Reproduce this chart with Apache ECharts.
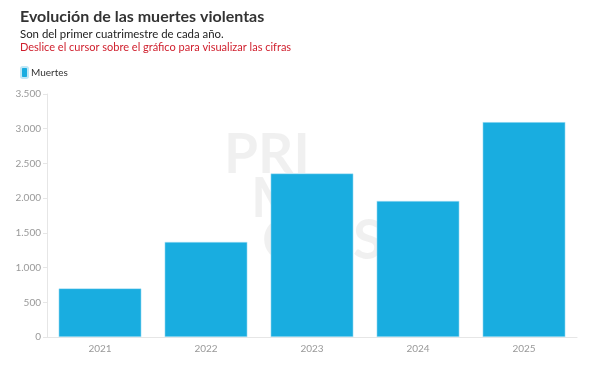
<!DOCTYPE html>
<html><head><meta charset="utf-8">
<script src="https://cdn.jsdelivr.net/npm/echarts@6/dist/echarts.min.js"></script>
<style>html,body{margin:0;padding:0;background:#fff}#c{width:597px;height:374px}</style>
</head><body><div id="c"></div>
<script>
const categories = ['2021','2022','2023','2024','2025'];
const muertes = [700, 1370, 2355, 1960, 3095];
const seriesName = 'Muertes';
const yTicks = {min:0, max:3500, interval:500};

const chart = echarts.init(document.getElementById('c'));
const font = 'Lato, "Noto Sans", sans-serif';
chart.setOption({
  animation:false,
  textStyle:{fontFamily:font},
  title:[
    {text:'Evolución de las muertes violentas', left:15, top:4, textStyle:{fontFamily:font,fontSize:16,fontWeight:'bold',color:'#333'}},
    {text:'Son del primer cuatrimestre de cada año.', left:15, top:24, textStyle:{fontFamily:font,fontSize:11.4,fontWeight:'normal',color:'#222'}},
    {text:'Deslice el cursor sobre el gráfico para visualizar las cifras', left:15, top:37, textStyle:{fontFamily:font,fontSize:11,fontWeight:'normal',color:'#d0202e'}}
  ],
  legend:{left:15, top:61, itemWidth:7, itemHeight:11, itemGap:4, icon:'roundRect',
    textStyle:{fontFamily:font,fontSize:10,color:'#333',padding:[0,0,0,-2]}, data:[seriesName]},
  graphic:[
    {type:'text', left:224, top:128, z:-1, style:{text:'PRI', font:'bold 55px '+font, fill:'rgba(0,0,0,0.06)'}},
    {type:'text', left:251, top:172, z:-1, style:{text:'MI', font:'bold 55px '+font, fill:'rgba(0,0,0,0.06)'}},
    {type:'text', left:262, top:214, z:-1, style:{text:'CIAS', font:'bold 55px '+font, fill:'rgba(0,0,0,0.06)'}}
  ],
  grid:{left:47, right:20, top:94, bottom:37},
  xAxis:{type:'category', data:categories,
    axisLine:{lineStyle:{color:'#e6e6e6'}},
    axisTick:{alignWithLabel:true, length:4, lineStyle:{color:'#e6e6e6'}},
    axisLabel:{color:'#999', fontSize:10, margin:7, fontFamily:font}},
  yAxis:{type:'value', min:yTicks.min, max:yTicks.max, interval:yTicks.interval,
    axisLine:{show:true, lineStyle:{color:'#e6e6e6'}},
    axisTick:{show:true, length:4, lineStyle:{color:'#e6e6e6'}},
    splitLine:{show:false},
    axisLabel:{color:'#999', fontSize:10, margin:6, fontFamily:font,
      formatter:v=>String(v).replace(/\B(?=(\d{3})+(?!\d))/g,'.')}},
  series:[{name:seriesName, type:'bar', data:muertes, barCategoryGap:'22%',
    itemStyle:{color:'#19ade0', borderColor:'#bfe7f6', borderWidth:0.5}}]
});
</script></body></html>
